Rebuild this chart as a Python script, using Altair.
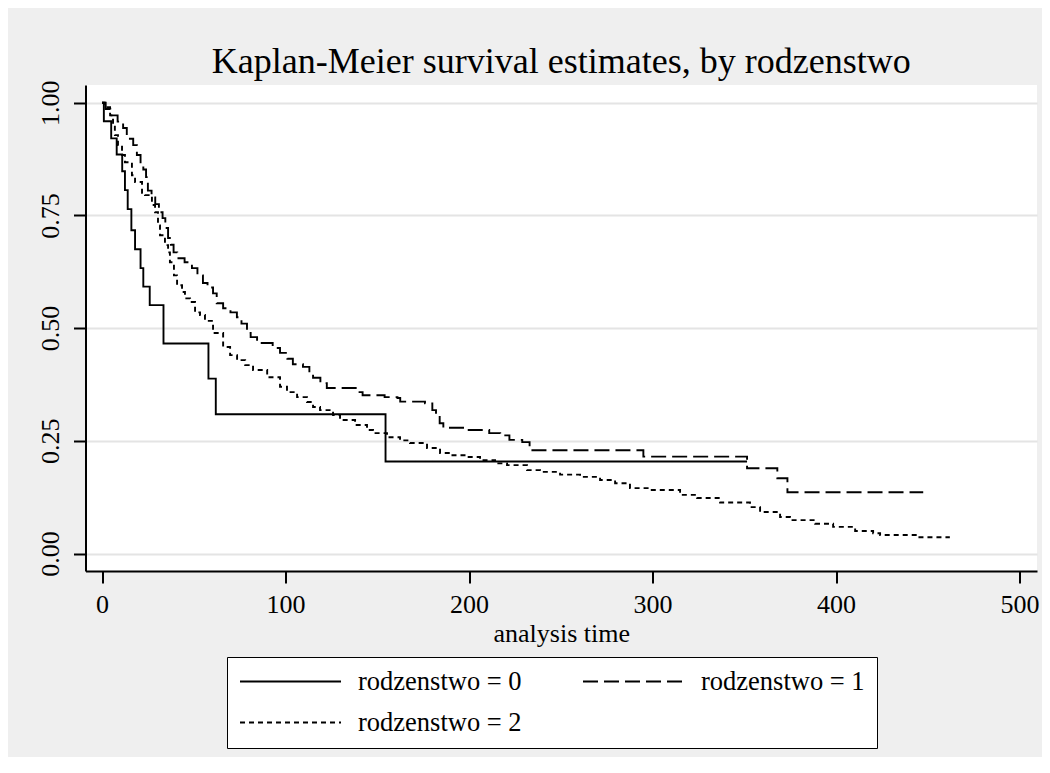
import altair as alt
import pandas as pd

title_text = "Kaplan-Meier survival estimates, by rodzenstwo"
x_title = "analysis time"
groups = ["rodzenstwo = 0", "rodzenstwo = 1", "rodzenstwo = 2"]
x_ticks = [0, 100, 200, 300, 400, 500]
y_ticks = [0.0, 0.25, 0.5, 0.75, 1.0]

# group 0 (solid)
t0 = [0, 1, 5, 8, 11, 12.5, 14, 16, 18, 21, 22.5, 26, 33.5, 58, 62, 154.5, 351.5]
s0 = [1.0, 0.959, 0.921, 0.885, 0.848, 0.806, 0.764, 0.717, 0.675, 0.633,
      0.592, 0.551, 0.466, 0.388, 0.309, 0.204, 0.204]

# group 1 (long dash)
t1 = [0, 2, 4.5, 8.5, 11.5, 13.5, 17, 19, 21, 22.5, 24, 25, 27, 29, 31, 33,
      34.5, 36, 37.5, 39, 41, 45, 49, 52, 55, 57.5, 60.5, 62.5, 66, 70, 73.5,
      76, 79, 81, 84.5, 93, 97, 101, 104, 109.5, 113, 115, 119, 122.5, 139,
      142, 154, 161, 162.5, 176, 180, 182, 184, 186, 199, 211, 217, 222, 229,
      233, 295, 351.5, 368, 373.5, 447.5]
s1 = [1.0, 0.986, 0.972, 0.958, 0.944, 0.92, 0.906, 0.884, 0.868, 0.852,
      0.835, 0.805, 0.79, 0.775, 0.757, 0.744, 0.722, 0.70, 0.685, 0.668,
      0.655, 0.646, 0.633, 0.617, 0.60, 0.59, 0.577, 0.555, 0.544, 0.535,
      0.524, 0.51, 0.489, 0.48, 0.467, 0.456, 0.445, 0.432, 0.42, 0.414,
      0.40, 0.39, 0.378, 0.367, 0.358, 0.351, 0.347, 0.345, 0.337, 0.333,
      0.318, 0.307, 0.289, 0.279, 0.274, 0.267, 0.262, 0.252, 0.247, 0.229,
      0.215, 0.189, 0.167, 0.136, 0.136]

# group 2 (short dash)
t2 = [0, 1.6, 4.4, 6, 7, 8.7, 10.9, 12.5, 16.3, 18, 21.8, 23.4, 27.2, 28.9,
      30.5, 31.6, 34.3, 36, 37, 39.2, 40.9, 43.6, 45.2, 48, 50.7, 53.4, 56.1,
      60.5, 66, 69.8, 73.6, 78, 82.3, 90, 97, 100.8, 106.3, 111.7, 115, 118.8,
      125.9, 129.7, 137.9, 144.4, 147.7, 155.3, 162.4, 167.8, 177.1, 184.2,
      189.6, 198.9, 206, 214.2, 220.7, 231.6, 238.7, 249.6, 260.5, 271.4,
      279.6, 287.7, 298.6, 315, 324.3, 336.8, 353.1, 358.6, 369.5, 374.9,
      388.6, 398.4, 410.4, 420.2, 424, 444.1, 462]
s2 = [1.0, 0.99, 0.972, 0.95, 0.928, 0.906, 0.884, 0.868, 0.839, 0.824, 0.80,
      0.795, 0.773, 0.757, 0.728, 0.706, 0.684, 0.668, 0.646, 0.617, 0.595,
      0.58, 0.566, 0.558, 0.535, 0.529, 0.516, 0.489, 0.458, 0.44, 0.429,
      0.418, 0.407, 0.391, 0.37, 0.358, 0.347, 0.336, 0.325, 0.318, 0.307,
      0.296, 0.285, 0.274, 0.267, 0.258, 0.251, 0.245, 0.234, 0.223, 0.218,
      0.214, 0.207, 0.2, 0.196, 0.185, 0.181, 0.175, 0.17, 0.163, 0.156,
      0.145, 0.141, 0.13, 0.123, 0.113, 0.103, 0.092, 0.081, 0.074, 0.066,
      0.059, 0.05, 0.045, 0.041, 0.036, 0.036]

rows = []
for g, ts, ss in zip(groups, [t0, t1, t2], [s0, s1, s2]):
    for t, s in zip(ts, ss):
        rows.append({"time": t, "surv": s, "group": g})
df = pd.DataFrame(rows)

FONT = "Liberation Serif"

chart = alt.Chart(df).mark_line(
    interpolate="step-after", color="black", strokeWidth=1.9
).encode(
    x=alt.X("time:Q",
            scale=alt.Scale(domain=[-9, 509.5], nice=False, zero=False),
            axis=alt.Axis(values=x_ticks, title=x_title, grid=False,
                          labelFont=FONT, titleFont=FONT,
                          labelFontSize=26, titleFontSize=26,
                          labelPadding=8, titlePadding=3)),
    y=alt.Y("surv:Q",
            scale=alt.Scale(domain=[-0.0388, 1.0393], nice=False, zero=False),
            axis=alt.Axis(values=y_ticks, format=".2f", title=None, grid=True,
                          labelFont=FONT,
                          labelAngle=270, labelAlign="center",
                          labelBaseline="bottom", labelFontSize=26,
                          labelPadding=10)),
    strokeDash=alt.StrokeDash(
        "group:N",
        scale=alt.Scale(domain=groups, range=[[1, 0], [15, 6], [5, 4]]),
        legend=alt.Legend(
            title=None, orient="none", legendX=141.5, legendY=572,
            columns=2, direction="horizontal",
            symbolType="stroke", symbolSize=10201,
            symbolStrokeWidth=1.9, symbolStrokeColor="black",
            labelFont=FONT, labelFontSize=26.5, labelColor="black",
            labelOffset=16, labelLimit=400, columnPadding=60,
            rowPadding=14, padding=12, strokeColor="black",
            fillColor="white", clipHeight=25,
        ),
    ),
).properties(
    width=951.5,
    height=486,
    autosize=alt.AutoSizeParams(type="none"),
    padding={"left": 77.5, "top": 77, "right": 5, "bottom": 186},
    background="#efefef",
    title=alt.Title(title_text, font=FONT, fontSize=36, fontWeight="normal",
                    color="black", anchor="middle", frame="group",
                    baseline="alphabetic", offset=9, dy=38),
).configure_view(
    stroke=None, fill="white"
).configure_axis(
    domainColor="black", domainWidth=2, tickColor="black", tickWidth=2,
    tickSize=12, labelFont=FONT, titleFont=FONT, labelColor="black",
    titleColor="black", titleFontWeight="normal",
    gridColor="#e4e4e4", gridWidth=2,
).configure_legend(
    labelFont=FONT
)

chart.save("out.html", embed_options={"renderer": "svg", "actions": False})
